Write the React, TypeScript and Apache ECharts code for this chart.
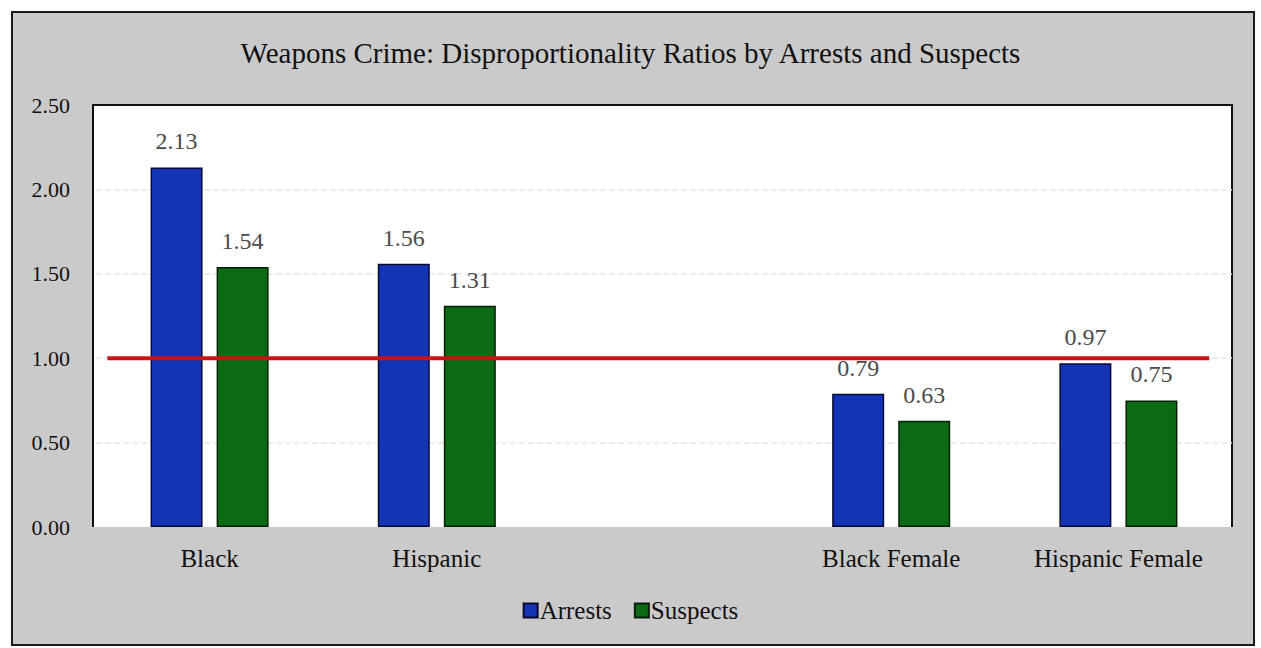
import React, { useEffect, useRef } from "react";
import * as echarts from "echarts";

const categories = ["Black", "Hispanic", "", "Black Female", "Hispanic Female"];
const arrests: (number | null)[] = [2.13, 1.56, null, 0.79, 0.97];
const suspects: (number | null)[] = [1.54, 1.31, null, 0.63, 0.75];
const referenceValue = 1.0;
const referenceSpan = [0.01, 0.98];
const yTicks = [0, 0.5, 1, 1.5, 2, 2.5];

const FONT = "'Liberation Serif', 'DejaVu Serif', serif";

export default function App() {
  const ref = useRef<HTMLDivElement>(null);
  useEffect(() => {
    if (!ref.current) return;
    const chart = echarts.init(ref.current, undefined, { renderer: "svg" });
    const labelStyle = {
      show: true,
      position: "top" as const,
      distance: 14,
      color: "#4a4a4a",
      fontFamily: FONT,
      fontSize: 24,
      formatter: (p: any) => Number(p.value).toFixed(2),
    };
    chart.setOption({
      animation: false,
      backgroundColor: "#ffffff",
      graphic: [
        {
          type: "rect",
          z: -10,
          shape: { x: 12, y: 12, width: 1242, height: 633 },
          style: { fill: "#cacaca", stroke: "#1a1a1a", lineWidth: 2 },
        },
        {
          type: "rect",
          z: -5,
          shape: { x: 93, y: 105, width: 1139, height: 422 },
          style: { fill: "#ffffff" },
        },
        {
          type: "polyline",
          z: -4,
          shape: { points: [[93, 527], [93, 105], [1232, 105], [1232, 527]] },
          style: { fill: "none", stroke: "#111111", lineWidth: 2 },
        },
      ],
      title: {
        text: "Weapons Crime: Disproportionality Ratios by Arrests and Suspects",
        left: "center",
        top: 33,
        textStyle: { fontFamily: FONT, fontSize: 29, fontWeight: "normal", color: "#111" },
      },
      legend: {
        bottom: 20,
        left: "center",
        itemWidth: 14,
        itemHeight: 14,
        itemGap: 22,
        icon: "rect",
        textStyle: { fontFamily: FONT, fontSize: 25, color: "#111", padding: [0, 0, 0, -3] },
        data: ["Arrests", "Suspects"],
      },
      grid: { left: 96, right: 29, top: 105, bottom: 121 },
      xAxis: [
        {
          type: "category",
          data: categories,
          axisLine: { show: false },
          axisTick: { show: false },
          axisLabel: { fontFamily: FONT, fontSize: 25, color: "#111", margin: 19 },
        },
        { type: "value", min: 0, max: 1, show: false },
      ],
      yAxis: {
        type: "value",
        min: 0,
        max: 2.5,
        interval: 0.5,
        axisLine: { show: false },
        axisTick: { show: false },
        axisLabel: {
          fontFamily: FONT,
          fontSize: 22,
          color: "#111",
          margin: 26,
          formatter: (v: number) => (yTicks.includes(v) ? v.toFixed(2) : ""),
        },
        splitLine: {
          show: true,
          showMinLine: false,
          showMaxLine: false,
          lineStyle: { color: "#e6e6e6", type: "dashed", width: 1.5 },
        },
      },
      series: [
        {
          name: "Arrests",
          type: "bar",
          data: arrests,
          barWidth: 52,
          barGap: "27%",
          itemStyle: { color: "#1434b8", borderColor: "#0a0a30", borderWidth: 1.5 },
          label: labelStyle,
        },
        {
          name: "Suspects",
          type: "bar",
          data: suspects,
          barWidth: 52,
          barGap: "27%",
          itemStyle: { color: "#0b6a14", borderColor: "#062006", borderWidth: 1.5 },
          label: labelStyle,
        },
        {
          name: "Reference",
          type: "line",
          xAxisIndex: 1,
          data: [
            [referenceSpan[0], referenceValue],
            [referenceSpan[1], referenceValue],
          ],
          symbol: "none",
          lineStyle: { color: "#cc1212", width: 4 },
          z: 5,
          silent: true,
        },
      ],
    });
    return () => chart.dispose();
  }, []);
  return (
    <div
      ref={ref}
      style={{ position: "absolute", left: 0, top: 0, width: 1261, height: 648 }}
    />
  );
}
